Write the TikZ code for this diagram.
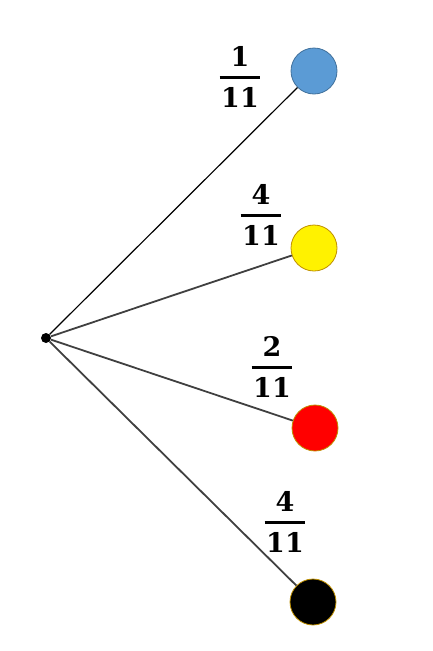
\documentclass[tikz,border=0pt]{standalone}
\usepackage{fontspec}
\setmainfont{DejaVu Serif}
\newcommand{\myfrac}[2]{$\displaystyle{\textbf{#1}\above 2.8pt\kern1.5pt\textbf{#2}\kern1.5pt}$}
\begin{document}
\begin{tikzpicture}[x=1pt,y=-1pt,
  ball/.style={circle,minimum size=46pt,inner sep=0pt,line width=0.8pt},
  frac/.style={inner sep=0pt,font=\fontsize{27}{32}\selectfont},
  branch/.style={draw=black!75,line width=1.8pt},
  branchthin/.style={draw=black,line width=1.2pt}]
\useasboundingbox (0,0) rectangle (433,651);
\node[circle,fill=black,minimum size=10pt,inner sep=0pt] (root) at (46,338) {};
\node[ball,fill={rgb,255:red,91;green,155;blue,213},draw={rgb,255:red,65;green,113;blue,156}] (blue) at (314,71) {};
\node[ball,fill=yellow,draw={rgb,255:red,191;green,144;blue,0}] (yellow) at (314,248) {};
\node[ball,fill=red,draw={rgb,255:red,191;green,144;blue,0}] (red) at (315,428) {};
\node[ball,fill=black,draw={rgb,255:red,191;green,144;blue,0}] (black) at (313,602) {};
\draw[branchthin] (root) -- (blue);
\draw[branch] (root) -- (yellow);
\draw[branch] (root) -- (red);
\draw[branch] (root) -- (black);
\node[frac] (f1) at (240,77) {\myfrac{1}{11}};
\node[frac] (f2) at (261,215) {\myfrac{4}{11}};
\node[frac] (f3) at (272,367) {\myfrac{2}{11}};
\node[frac] (f4) at (285,522) {\myfrac{4}{11}};
\end{tikzpicture}
\end{document}
